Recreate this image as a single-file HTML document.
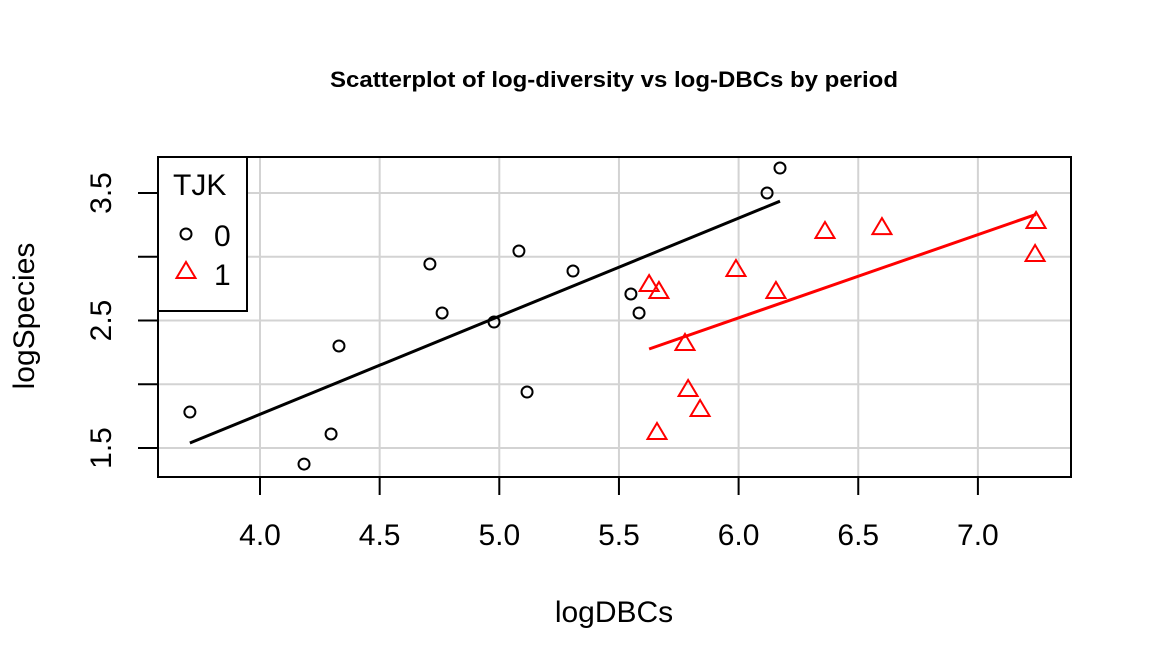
<!DOCTYPE html>
<html><head><meta charset="utf-8"><style>
body{margin:0;background:#fff}
svg{display:block;font-family:"Liberation Sans",Arial,sans-serif}
</style></head><body>
<svg id="c" width="1152" height="672" viewBox="0 0 1152 672">
<text x="614" y="87" text-anchor="middle" font-size="22" font-weight="bold" textLength="568" lengthAdjust="spacingAndGlyphs">Scatterplot of log-diversity vs log-DBCs by period</text>
<g id="grid"></g>
<g id="ax"></g>
<g id="marks"></g>
<rect x="158" y="157" width="913" height="320" fill="none" stroke="#000" stroke-width="2"/>
<text x="614" y="622" text-anchor="middle" font-size="30">logDBCs</text>
<text transform="translate(34,316) rotate(-90)" text-anchor="middle" font-size="30">logSpecies</text>
<g>
<rect x="158" y="157" width="89" height="154" fill="#fff" stroke="#000" stroke-width="2"/>
<text x="173" y="195" font-size="30">TJK</text>
<circle cx="186" cy="234" r="5.5" fill="none" stroke="#000" stroke-width="2"/>
<text x="214" y="246" font-size="30">0</text>
<path d="M186,262 L195.5,278 L176.5,278 Z" fill="none" stroke="#f00" stroke-width="2"/>
<text x="214" y="285" font-size="30">1</text>
</g>
</svg>
<script>
const xTicks=[4.0,4.5,5.0,5.5,6.0,6.5,7.0];
const xTickLabels=["4.0","4.5","5.0","5.5","6.0","6.5","7.0"];
const yTicks=[1.5,2.0,2.5,3.0,3.5];
const yTickLabels=["1.5","","2.5","","3.5"];
const x0=[3.707,4.184,4.297,4.330,4.710,4.761,4.978,5.082,5.116,5.308,5.550,5.584,6.119,6.173];
const y0=[1.782,1.374,1.610,2.300,2.943,2.559,2.488,3.045,1.939,2.888,2.708,2.559,3.500,3.696];
const x1=[5.626,5.667,5.776,5.989,5.789,5.839,5.659,6.156,6.361,6.599,7.243,7.239];
const y1=[2.778,2.724,2.316,2.896,1.955,1.798,1.618,2.724,3.194,3.225,3.273,3.014];
const X=v=>260+(v-4)*239.3;
const Y=v=>193-(v-3.5)*127.5;
const NS="http://www.w3.org/2000/svg";
function mk(t,a,p){const e=document.createElementNS(NS,t);for(const k in a)e.setAttribute(k,a[k]);p.appendChild(e);return e;}
const grid=document.getElementById('grid'),ax=document.getElementById('ax'),marks=document.getElementById('marks');
xTicks.forEach((v,i)=>{
 const g=mk('line',{x1:X(v),x2:X(v),y1:157,y2:477,stroke:'#d3d3d3','stroke-width':2},grid);
 
 
 const t=mk('line',{x1:X(v),x2:X(v),y1:477,y2:495,stroke:'#000','stroke-width':2},ax);
 
 
 const l=mk('text',{x:X(v),y:545,'text-anchor':'middle','font-size':30},ax);
 l.textContent=xTickLabels[i];
 
 
});
yTicks.forEach((v,i)=>{
 const g=mk('line',{x1:158,x2:1071,y1:Y(v),y2:Y(v),stroke:'#d3d3d3','stroke-width':2},grid);
 
 
 const t=mk('line',{x1:138,x2:158,y1:Y(v),y2:Y(v),stroke:'#000','stroke-width':2},ax);
 
 
 if(yTickLabels[i]){
 const l=mk('text',{'text-anchor':'middle','font-size':30,transform:`translate(111,${Y(v)}) rotate(-90)`},ax);
 l.textContent=yTickLabels[i];
 
 }
});
function fit(xs,ys){const n=xs.length,mx=xs.reduce((a,b)=>a+b)/n,my=ys.reduce((a,b)=>a+b)/n;let s=0,q=0;xs.forEach((x,i)=>{s+=(x-mx)*(ys[i]-my);q+=(x-mx)**2});const b=s/q;return [my-b*mx,b];}
[[x0,y0,'#000','fit-line-0'],[x1,y1,'#f00','fit-line-1']].forEach(([xs,ys,c,n])=>{
 const [a,b]=fit(xs,ys);const lo=Math.min(...xs),hi=Math.max(...xs);
 const l=mk('line',{x1:X(lo),y1:Y(a+b*lo),x2:X(hi),y2:Y(a+b*hi),stroke:c,'stroke-width':3},marks);
 
 
});
x0.forEach((v,i)=>{
 const c=mk('circle',{cx:X(v),cy:Y(y0[i]),r:5.5,fill:'none',stroke:'#000','stroke-width':2},marks);
 
 
});
x1.forEach((v,i)=>{
 const cx=X(v),cy=Y(y1[i]);
 const p=mk('path',{d:`M${cx},${cy-10} L${cx+9.5},${cy+6} L${cx-9.5},${cy+6} Z`,fill:'none',stroke:'#f00','stroke-width':2},marks);
 
 
});
</script>
</body></html>
